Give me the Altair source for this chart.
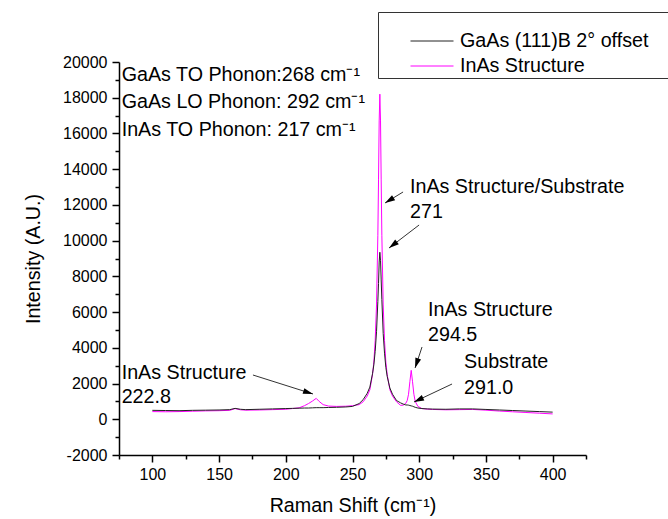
import math
import altair as alt
import pandas as pd

# ---------------- data ----------------
shift = [100, 110, 120, 130, 140, 150, 158, 162, 166, 170, 180, 190, 200, 205, 210, 214,
         217, 220, 222.8, 225, 228, 232, 238, 245, 250, 255, 258, 261, 263, 265, 266, 267,
         268, 269, 269.5, 270, 270.5, 271, 271.5, 272, 273, 274, 275, 276, 278, 280, 283,
         286, 288, 290, 291, 292, 293, 294, 295, 296, 297, 299, 302, 306, 310, 320, 330,
         340, 350, 360, 370, 380, 390, 400]

gaas = [500, 490, 480, 500, 510, 520, 540, 610, 560, 540, 560, 580, 600, 610, 620, 630,
        630, 640, 650, 650, 650, 660, 670, 690, 720, 880, 1100, 1450, 1800, 2550, 3050, 3800,
        4900, 6600, 7600, 8800, 9350, 8900, 7800, 6700, 4800, 3700, 2900, 2400, 1750, 1400, 1050,
        920, 850, 800, 800, 790, 770, 750, 730, 700, 670, 630, 600, 580, 570, 560, 580,
        580, 550, 520, 490, 460, 430, 400]

inas = [430, 420, 430, 450, 470, 480, 500, 600, 530, 510, 520, 540, 560, 600, 640, 760,
        880, 1020, 1170, 1000, 820, 740, 720, 730, 760, 820, 980, 1300, 1650, 2500, 3200, 4400,
        6400, 10300, 13400, 16700, 18200, 16700, 13400, 10300, 6400, 4400, 3200, 2500, 1650, 1300, 980,
        780, 790, 900, 1050, 1400, 2100, 2740, 2100, 1400, 1000, 720, 600, 570, 550, 530, 540,
        550, 510, 460, 420, 380, 340, 300]

series_names = ["GaAs (111)B 2\u00b0 offset", "InAs Structure"]
series_colors = ["#222222", "#ff00ff"]

note_text = ["GaAs TO Phonon:268 cm\u207b\u00b9", "GaAs LO Phonon: 292 cm\u207b\u00b9",
             "InAs TO Phonon: 217 cm\u207b\u00b9",
             "InAs Structure", "222.8",
             "InAs Structure/Substrate", "271",
             "InAs Structure", "294.5",
             "Substrate", "291.0"]
note_x = [77, 77, 77, 77, 77, 293.1, 293.1, 306.6, 306.6, 333.6, 333.6]
note_y = [19270, 17760, 16190, 2590, 1250, 13000, 11600, 6120, 4720, 3210, 1750]

arrow_x1 = [175.4, 287.9, 299.9, 302.1, 324.6]
arrow_y1 = [2478, 12723, 10875, 4046, 1974]
arrow_x2 = [220.4, 274.4, 277.4, 296.9, 296.1]
arrow_y2 = [1414, 12107, 9588, 2870, 968]

# ---------------- layout ----------------
W, H = 467, 393
XDOM = [75, 425]
YDOM = [-2000, 20000]
FONT = "Liberation Sans"

rows = []
for name, ys in zip(series_names, [gaas, inas]):
    for xv, yv in zip(shift, ys):
        rows.append({"shift": xv, "intensity": yv, "series": name})
df = pd.DataFrame(rows)

xs = alt.Scale(domain=XDOM, nice=False, zero=False)
ys_ = alt.Scale(domain=YDOM, nice=False, zero=False)

x_axis = alt.Axis(
    values=list(range(75, 426, 25)),
    labelExpr="datum.value % 50 == 0 ? '' + datum.value : ''",
    tickSize={"condition": {"test": "datum.value % 50 == 0", "value": 7}, "value": 4},
    grid=False, title="Raman Shift (cm\u207b\u00b9)", labelPadding=4, titlePadding=13,
)
y_axis = alt.Axis(
    values=list(range(-2000, 20001, 1000)),
    labelExpr="datum.value % 2000 == 0 ? '' + datum.value : ''",
    tickSize={"condition": {"test": "datum.value % 2000 == 0", "value": 7}, "value": 4},
    grid=False, title="Intensity (A.U.)", labelPadding=5, titlePadding=19,
)

X = alt.X("shift:Q", scale=xs, axis=x_axis)
Y = alt.Y("intensity:Q", scale=ys_, axis=y_axis)

color = alt.Color(
    "series:N",
    scale=alt.Scale(domain=series_names, range=series_colors),
    legend=alt.Legend(
        orient="none", legendX=259, legendY=-50,
        title="x" * 60, titleFontSize=12, titlePadding=5, titleOpacity=0, titleLimit=600,
        padding=2, strokeColor="#333333", fillColor="white",
        symbolType="stroke", symbolSize=1849, symbolStrokeWidth=1, clipHeight=20,
        symbolOffset=30, labelOffset=6, rowPadding=5,
        labelFont=FONT, labelFontSize=19.7, labelColor="black", labelLimit=500,
    ),
)

pink = alt.Chart(df).transform_filter(alt.datum.series == series_names[1]).mark_line(
    strokeWidth=1).encode(x=X, y=Y, color=color)
black = alt.Chart(df).transform_filter(alt.datum.series == series_names[0]).mark_line(
    strokeWidth=1).encode(x=X, y=Y, color=color)

notes = pd.DataFrame({"shift": note_x, "intensity": note_y, "text": note_text})
text_layer = alt.Chart(notes).mark_text(
    align="left", baseline="middle", font=FONT, fontSize=19.7, color="black"
).encode(x=X, y=Y, text="text:N")

px_x = W / (XDOM[1] - XDOM[0])
px_y = H / (YDOM[1] - YDOM[0])
angles = []
for a, b, c, d in zip(arrow_x1, arrow_y1, arrow_x2, arrow_y2):
    dx = (c - a) * px_x
    dy = -(d - b) * px_y
    angles.append(math.degrees(math.atan2(dx, -dy)) % 360)

arrows = pd.DataFrame({"shift": arrow_x1, "intensity": arrow_y1,
                       "x2": arrow_x2, "y2": arrow_y2, "angle": angles})
rule_layer = alt.Chart(arrows).mark_rule(color="#333333", strokeWidth=1).encode(
    x=X, y=Y, x2="x2:Q", y2="y2:Q")
head_layer = alt.Chart(arrows).mark_point(
    shape="M0,0L0.6,2L-0.6,2Z", filled=True, color="black", size=100, opacity=1, strokeWidth=0
).encode(x=alt.X("x2:Q", scale=xs, axis=x_axis), y=alt.Y("y2:Q", scale=ys_, axis=y_axis),
         angle=alt.Angle("angle:Q", scale=None))

chart = alt.layer(pink, black, rule_layer, head_layer, text_layer).properties(
    width=W, height=H,
    padding={"left": 119, "top": 62, "right": 82, "bottom": 64},
    autosize=alt.AutoSizeParams(type="none"),
).configure_view(stroke=None).configure_axis(
    domainColor="black", domainWidth=1.5, tickColor="black", tickWidth=1.5,
    labelFont=FONT, labelFontSize=16, labelColor="black",
    titleFont=FONT, titleFontSize=19.7, titleFontWeight="normal", titleColor="black",
)

chart.save("out.html", embed_options={"renderer": "svg", "actions": False})
